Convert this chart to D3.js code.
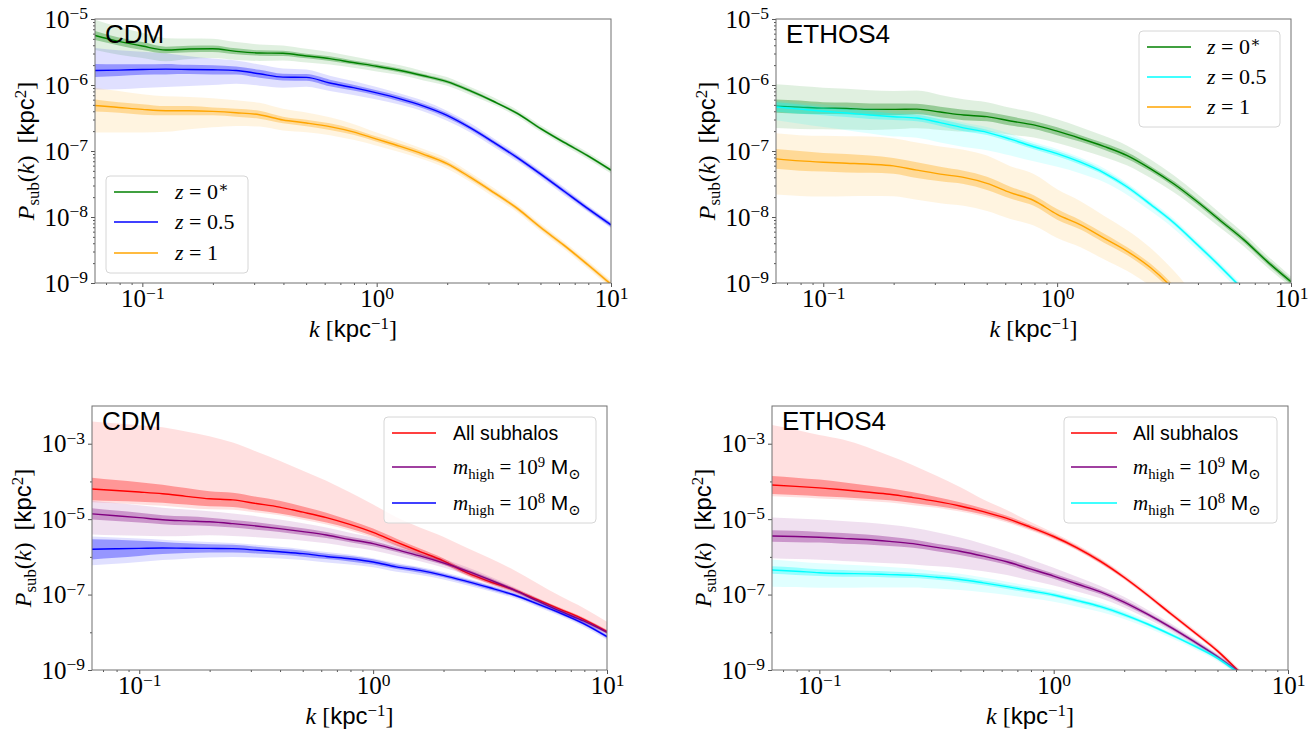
<!doctype html>
<html lang="en">
<head>
<meta charset="UTF-8">
<title>Subhalo power spectrum</title>
<script src="https://cdn.jsdelivr.net/npm/d3@7"></script>
<style>
  body { margin: 0; background: #fff; }
  svg text { white-space: pre; }
</style>
</head>
<body>
<svg id="fig" width="1310" height="729"></svg>
<script>
var SERIF = '"Liberation Serif", "DejaVu Serif", serif';
var SANS = '"Liberation Sans", "DejaVu Sans", sans-serif';

// k grid [kpc^-1], first point = 2pi/100
var kGrid = [0.0628, 0.0794, 0.1, 0.1259, 0.1585, 0.1995, 0.2512, 0.3162, 0.3981, 0.5012, 0.631, 0.7943,
  1.0, 1.259, 1.585, 1.995, 2.512, 3.162, 3.981, 5.012, 6.31, 7.943, 10.0];

// medians are log10 P_sub, band widths are in dex (In = dark band half width, Up/Dn = light band)
// --- CDM, redshift
var cdmZ0   = [-5.25,-5.34,-5.41,-5.47,-5.455,-5.45,-5.49,-5.515,-5.52,-5.56,-5.60,-5.66,-5.715,-5.78,-5.86,-5.95,-6.09,-6.25,-6.43,-6.66,-6.87,-7.07,-7.29];
var cdmZ0In = [0.07,0.06,0.06,0.05,0.05,0.05,0.045,0.04,0.04,0.035,0.035,0.03,0.03,0.03,0.025,0.025,0.025,0.02,0.02,0.02,0.02,0.02,0.02];
var cdmZ0Up = [0.24,0.22,0.2,0.18,0.16,0.15,0.14,0.13,0.12,0.11,0.1,0.09,0.08,0.08,0.07,0.07,0.06,0.06,0.05,0.05,0.05,0.05,0.05];
var cdmZ0Dn = [0.22,0.2,0.18,0.17,0.15,0.14,0.13,0.12,0.11,0.1,0.09,0.08,0.08,0.07,0.07,0.06,0.06,0.05,0.05,0.05,0.05,0.05,0.05];

var cdmZ05   = [-5.78,-5.775,-5.765,-5.76,-5.765,-5.77,-5.78,-5.83,-5.88,-5.885,-5.97,-6.04,-6.12,-6.21,-6.32,-6.46,-6.65,-6.87,-7.10,-7.35,-7.61,-7.87,-8.12];
var cdmZ05In = [0.1,0.09,0.08,0.08,0.07,0.07,0.06,0.06,0.05,0.05,0.05,0.045,0.04,0.04,0.035,0.035,0.03,0.03,0.03,0.03,0.03,0.03,0.03];
var cdmZ05Up = [0.34,0.3,0.27,0.24,0.2,0.17,0.15,0.14,0.13,0.12,0.11,0.1,0.09,0.08,0.08,0.07,0.07,0.06,0.06,0.06,0.06,0.05,0.05];
var cdmZ05Dn = [0.29,0.29,0.28,0.27,0.25,0.23,0.2,0.18,0.16,0.14,0.12,0.11,0.1,0.09,0.08,0.08,0.07,0.07,0.06,0.06,0.06,0.05,0.05];

var cdmZ1   = [-6.31,-6.34,-6.37,-6.39,-6.39,-6.40,-6.42,-6.45,-6.53,-6.575,-6.63,-6.71,-6.82,-6.93,-7.05,-7.19,-7.40,-7.63,-7.87,-8.16,-8.43,-8.72,-9.02];
var cdmZ1In = [0.09,0.08,0.08,0.07,0.07,0.06,0.06,0.06,0.05,0.05,0.05,0.045,0.04,0.04,0.04,0.035,0.035,0.03,0.03,0.03,0.03,0.03,0.03];
var cdmZ1Up = [0.27,0.25,0.23,0.22,0.21,0.2,0.19,0.18,0.17,0.16,0.14,0.12,0.1,0.09,0.08,0.08,0.07,0.07,0.06,0.06,0.06,0.06,0.06];
var cdmZ1Dn = [0.41,0.38,0.35,0.32,0.28,0.24,0.2,0.18,0.16,0.14,0.13,0.12,0.1,0.09,0.08,0.08,0.07,0.07,0.06,0.06,0.06,0.06,0.06];

// --- ETHOS4, redshift
var ethZ0   = [-6.32,-6.335,-6.35,-6.355,-6.37,-6.37,-6.365,-6.41,-6.455,-6.48,-6.545,-6.605,-6.70,-6.81,-6.93,-7.07,-7.27,-7.50,-7.77,-8.06,-8.35,-8.68,-8.98];
var ethZ0In = [0.1,0.1,0.09,0.09,0.09,0.09,0.08,0.08,0.08,0.07,0.07,0.06,0.06,0.05,0.05,0.05,0.04,0.04,0.04,0.04,0.04,0.04,0.04];
var ethZ0Up = [0.33,0.32,0.31,0.3,0.29,0.28,0.28,0.26,0.24,0.22,0.2,0.19,0.18,0.17,0.16,0.15,0.14,0.13,0.12,0.11,0.1,0.09,0.08];
var ethZ0Dn = [0.33,0.33,0.32,0.32,0.31,0.3,0.29,0.27,0.25,0.23,0.21,0.19,0.18,0.17,0.16,0.15,0.14,0.13,0.12,0.11,0.1,0.09,0.08];

var ethZ05   = [-6.333,-6.366,-6.397,-6.425,-6.454,-6.48,-6.50,-6.57,-6.649,-6.717,-6.82,-6.935,-7.04,-7.17,-7.33,-7.545,-7.81,-8.09,-8.42,-8.76,-9.12];
var ethZ05In = [0.07,0.07,0.06,0.06,0.06,0.05,0.05,0.05,0.05,0.04,0.04,0.04,0.04,0.04,0.035,0.035,0.03,0.03,0.03,0.03,0.03];
var ethZ05Up = [0.1,0.1,0.1,0.1,0.1,0.09,0.09,0.09,0.08,0.08,0.08,0.07,0.07,0.07,0.07,0.06,0.06,0.06,0.06,0.06,0.06];
var ethZ05Dn = [0.2,0.22,0.24,0.26,0.28,0.3,0.3,0.3,0.29,0.27,0.25,0.22,0.2,0.17,0.14,0.12,0.1,0.09,0.08,0.08,0.08];

var ethZ1   = [-7.12,-7.15,-7.17,-7.185,-7.20,-7.225,-7.29,-7.35,-7.40,-7.49,-7.63,-7.75,-7.96,-8.12,-8.32,-8.52,-8.77,-9.1,-9.5];
var ethZ1In = [0.15,0.15,0.14,0.14,0.13,0.12,0.12,0.11,0.1,0.1,0.09,0.08,0.08,0.07,0.07,0.06,0.06,0.06,0.06];
var ethZ1Up = [0.39,0.39,0.4,0.41,0.42,0.42,0.42,0.42,0.42,0.42,0.4,0.4,0.38,0.36,0.34,0.32,0.3,0.28,0.26];
var ethZ1Dn = [0.54,0.53,0.52,0.5,0.48,0.46,0.45,0.44,0.43,0.42,0.4,0.38,0.36,0.34,0.32,0.3,0.28,0.26,0.24];

// --- CDM, mass cut
var cdmAll   = [-4.20,-4.24,-4.28,-4.326,-4.395,-4.46,-4.49,-4.585,-4.68,-4.815,-4.96,-5.14,-5.35,-5.61,-5.86,-6.105,-6.42,-6.66,-6.87,-7.13,-7.39,-7.655,-7.98];
var cdmAllIn = [0.3,0.28,0.26,0.24,0.22,0.2,0.19,0.18,0.17,0.15,0.13,0.11,0.1,0.09,0.08,0.07,0.06,0.05,0.05,0.04,0.04,0.04,0.04];
var cdmAllUp = [1.79,1.78,1.77,1.76,1.72,1.66,1.52,1.38,1.23,1.1,0.98,0.85,0.74,0.66,0.64,0.64,0.66,0.62,0.53,0.44,0.35,0.3,0.26];
var cdmAllDn = [0.35,0.34,0.33,0.32,0.3,0.28,0.26,0.24,0.22,0.2,0.18,0.16,0.14,0.12,0.11,0.1,0.09,0.08,0.07,0.07,0.06,0.06,0.06];

var cdmM9   = [-4.86,-4.91,-4.96,-5.015,-5.045,-5.07,-5.12,-5.18,-5.25,-5.33,-5.42,-5.54,-5.65,-5.81,-5.975,-6.16,-6.37,-6.61,-6.87,-7.16,-7.44,-7.70,-8.00];
var cdmM9In = [0.15,0.14,0.13,0.12,0.12,0.11,0.1,0.1,0.09,0.09,0.08,0.07,0.07,0.06,0.06,0.05,0.05,0.05,0.04,0.04,0.04,0.04,0.04];
var cdmM9Up = [0.35,0.34,0.33,0.32,0.3,0.28,0.27,0.26,0.24,0.22,0.2,0.18,0.16,0.14,0.12,0.11,0.1,0.09,0.08,0.08,0.07,0.07,0.07];
var cdmM9Dn = [0.55,0.52,0.48,0.44,0.4,0.36,0.33,0.3,0.27,0.24,0.22,0.2,0.18,0.16,0.14,0.12,0.11,0.1,0.09,0.08,0.08,0.07,0.07];

var cdmM8   = [-5.80,-5.785,-5.775,-5.766,-5.77,-5.776,-5.782,-5.82,-5.865,-5.915,-5.99,-6.05,-6.135,-6.265,-6.36,-6.49,-6.65,-6.82,-7.005,-7.24,-7.49,-7.77,-8.116];
var cdmM8In = [0.27,0.24,0.2,0.16,0.13,0.11,0.1,0.09,0.08,0.08,0.07,0.07,0.07,0.06,0.06,0.05,0.05,0.05,0.04,0.04,0.04,0.04,0.04];
var cdmM8Up = [0.34,0.3,0.26,0.22,0.19,0.17,0.15,0.14,0.13,0.12,0.12,0.11,0.1,0.1,0.09,0.09,0.08,0.08,0.07,0.07,0.07,0.07,0.07];
var cdmM8Dn = [0.42,0.4,0.36,0.32,0.28,0.24,0.22,0.2,0.18,0.17,0.16,0.15,0.14,0.13,0.12,0.11,0.1,0.09,0.08,0.08,0.08,0.08,0.08];

// --- ETHOS4, mass cut
var ethAll   = [-4.095,-4.13,-4.17,-4.22,-4.28,-4.34,-4.43,-4.53,-4.65,-4.80,-4.98,-5.21,-5.46,-5.76,-6.12,-6.54,-7.01,-7.51,-8.00,-8.50,-9.1];
var ethAllIn = [0.24,0.23,0.22,0.2,0.18,0.16,0.14,0.12,0.1,0.08,0.07,0.06,0.05,0.05,0.05,0.04,0.04,0.04,0.04,0.04,0.04];
var ethAllUp = [1.59,1.5,1.4,1.33,1.2,1.02,0.86,0.68,0.5,0.32,0.22,0.14,0.1,0.09,0.08,0.08,0.08,0.08,0.08,0.08,0.08];
var ethAllDn = [0.3,0.29,0.28,0.26,0.24,0.22,0.2,0.17,0.15,0.13,0.11,0.09,0.08,0.07,0.07,0.06,0.06,0.06,0.06,0.06,0.06];

var ethM9   = [-5.447,-5.46,-5.48,-5.51,-5.54,-5.59,-5.65,-5.75,-5.85,-5.98,-6.13,-6.32,-6.51,-6.72,-6.93,-7.20,-7.52,-7.87,-8.25,-8.65,-9.1];
var ethM9In = [0.15,0.15,0.14,0.14,0.13,0.12,0.11,0.1,0.1,0.09,0.08,0.08,0.07,0.07,0.06,0.06,0.05,0.05,0.05,0.05,0.05];
var ethM9Up = [0.49,0.48,0.47,0.46,0.45,0.44,0.42,0.4,0.36,0.32,0.28,0.25,0.22,0.19,0.16,0.14,0.12,0.1,0.09,0.08,0.08];
var ethM9Dn = [0.59,0.6,0.6,0.6,0.6,0.58,0.55,0.5,0.45,0.4,0.35,0.3,0.25,0.2,0.17,0.14,0.12,0.1,0.09,0.08,0.08];

var ethM8   = [-6.35,-6.38,-6.42,-6.44,-6.45,-6.47,-6.49,-6.54,-6.60,-6.69,-6.79,-6.90,-7.01,-7.16,-7.32,-7.53,-7.78,-8.06,-8.36,-8.69,-9.13];
var ethM8In = [0.1,0.1,0.09,0.09,0.08,0.08,0.07,0.07,0.07,0.06,0.06,0.06,0.05,0.05,0.05,0.05,0.04,0.04,0.04,0.04,0.04];
var ethM8Up = [0.28,0.26,0.25,0.24,0.22,0.2,0.18,0.16,0.15,0.14,0.13,0.13,0.13,0.12,0.11,0.1,0.09,0.08,0.08,0.07,0.07];
var ethM8Dn = [0.44,0.42,0.4,0.38,0.36,0.34,0.32,0.3,0.28,0.25,0.22,0.2,0.18,0.16,0.14,0.12,0.1,0.09,0.08,0.08,0.08];

// tick values
var xMajor = [0.1, 1, 10];
var yMajorTop = [1e-9, 1e-8, 1e-7, 1e-6, 1e-5];
var yMajorBot = [1e-9, 1e-7, 1e-5, 1e-3];
var yMinorBot = [1e-8, 1e-6, 1e-4];

// legend labels
var zLabels = [
  [['z', 'i'], [' = 0'], ['\u2217', '^']],
  [['z', 'i'], [' = 0.5']],
  [['z', 'i'], [' = 1']]
];
var mLabels = [
  [['All subhalos', 's']],
  [['m', 'i'], ['high', '_'], [' = 10'], ['9', '^'], [' M', 's'], ['\u2299', '_']],
  [['m', 'i'], ['high', '_'], [' = 10'], ['8', '^'], [' M', 's'], ['\u2299', '_']]
];

function minorTicks(lo, hi) {
  var out = [];
  for (var e = Math.floor(Math.log10(lo)); e < Math.log10(hi); e++) {
    for (var s = 2; s <= 9; s++) {
      var v = s * Math.pow(10, e);
      if (v >= lo && v <= hi) out.push(v);
    }
  }
  return out;
}

function rich(t, parts, size) {
  var off = 0;
  parts.forEach(function(p) {
    var st = p[1] || '';
    var sup = st.indexOf('^') >= 0, sub = st.indexOf('_') >= 0;
    var shift = sup ? -0.34 * size : sub ? 0.22 * size : 0;
    t.append('tspan')
      .attr('dy', shift - off)
      .attr('font-size', (sup || sub) ? size * 0.7 : size)
      .attr('font-family', st.indexOf('s') >= 0 ? SANS : SERIF)
      .attr('font-style', st.indexOf('i') >= 0 ? 'italic' : 'normal')
      .text(p[0]);
    off = shift;
  });
}

function sup10(v) {
  var e = Math.round(Math.log10(v));
  return [['10'], [(e < 0 ? '\u2212' + (-e) : '' + e), '^']];
}

var panels = [
  { title: 'CDM', x0: 95, x1: 611, y0: 19, y1: 283, yDom: [1e-9, 1e-5], yMajor: yMajorTop, yMinor: minorTicks(1e-9, 1e-5), ylabX: 34,
    legend: { x0: 106, y0: 176, x1: 248, y1: 273, lx0: 114, lx1: 158, tx: 175, rows: [192, 222, 253], size: 22 }, labels: zLabels,
    series: [
      { c: '#008000', m: cdmZ0, i: cdmZ0In, u: cdmZ0Up, d: cdmZ0Dn },
      { c: '#0000ff', m: cdmZ05, i: cdmZ05In, u: cdmZ05Up, d: cdmZ05Dn },
      { c: '#ffa500', m: cdmZ1, i: cdmZ1In, u: cdmZ1Up, d: cdmZ1Dn }
    ] },
  { title: 'ETHOS4', x0: 776, x1: 1291, y0: 19, y1: 283, yDom: [1e-9, 1e-5], yMajor: yMajorTop, yMinor: minorTicks(1e-9, 1e-5), ylabX: 715,
    legend: { x0: 1139, y0: 31, x1: 1280, y1: 127, lx0: 1147, lx1: 1191, tx: 1207, rows: [47, 77, 107], size: 22 }, labels: zLabels,
    series: [
      { c: '#008000', m: ethZ0, i: ethZ0In, u: ethZ0Up, d: ethZ0Dn },
      { c: '#00ffff', m: ethZ05, i: ethZ05In, u: ethZ05Up, d: ethZ05Dn },
      { c: '#ffa500', m: ethZ1, i: ethZ1In, u: ethZ1Up, d: ethZ1Dn }
    ] },
  { title: 'CDM', x0: 92, x1: 607, y0: 406, y1: 670, yDom: [1e-9, 1e-2], yMajor: yMajorBot, yMinor: yMinorBot, ylabX: 31,
    legend: { x0: 384, y0: 417, x1: 596, y1: 523, lx0: 392, lx1: 436, tx: 453, rows: [433, 467, 503], size: 21 }, labels: mLabels,
    series: [
      { c: '#ff0000', m: cdmAll, i: cdmAllIn, u: cdmAllUp, d: cdmAllDn },
      { c: '#800080', m: cdmM9, i: cdmM9In, u: cdmM9Up, d: cdmM9Dn },
      { c: '#0000ff', m: cdmM8, i: cdmM8In, u: cdmM8Up, d: cdmM8Dn }
    ] },
  { title: 'ETHOS4', x0: 772, x1: 1288, y0: 406, y1: 670, yDom: [1e-9, 1e-2], yMajor: yMajorBot, yMinor: yMinorBot, ylabX: 711,
    legend: { x0: 1064, y0: 417, x1: 1277, y1: 523, lx0: 1071, lx1: 1117, tx: 1133, rows: [433, 467, 503], size: 21 }, labels: mLabels,
    series: [
      { c: '#ff0000', m: ethAll, i: ethAllIn, u: ethAllUp, d: ethAllDn },
      { c: '#800080', m: ethM9, i: ethM9In, u: ethM9Up, d: ethM9Dn },
      { c: '#00ffff', m: ethM8, i: ethM8In, u: ethM8Up, d: ethM8Dn }
    ] }
];

var svg = d3.select('#fig');
svg.append('rect').attr('width', 1310).attr('height', 729).attr('fill', '#fff');
var defs = svg.append('defs');

panels.forEach(function(p, pi) {
  var x = d3.scaleLog().domain([kGrid[0], 10]).range([p.x0, p.x1]);
  var y = d3.scaleLog().domain(p.yDom).range([p.y1, p.y0]);
  var g = svg.append('g');

  defs.append('clipPath').attr('id', 'clip' + pi)
    .append('rect').attr('x', p.x0).attr('y', p.y0).attr('width', p.x1 - p.x0).attr('height', p.y1 - p.y0);
  var plot = g.append('g').attr('clip-path', 'url(#clip' + pi + ')');

  p.series.forEach(function(s) {
    var pts = s.m.map(function(v, j) { return { k: kGrid[j], m: v, i: s.i[j], u: s.u[j], d: s.d[j] }; });
    var outer = d3.area().curve(d3.curveMonotoneX).x(function(d) { return x(d.k); })
      .y0(function(d) { return y(Math.pow(10, d.m - d.d)); })
      .y1(function(d) { return y(Math.pow(10, d.m + d.u)); });
    var inner = d3.area().curve(d3.curveMonotoneX).x(function(d) { return x(d.k); })
      .y0(function(d) { return y(Math.pow(10, d.m - d.i)); })
      .y1(function(d) { return y(Math.pow(10, d.m + d.i)); });
    var line = d3.line().curve(d3.curveMonotoneX)
      .x(function(d) { return x(d.k); }).y(function(d) { return y(Math.pow(10, d.m)); });
    plot.append('path').datum(pts).attr('d', outer).attr('fill', s.c).attr('fill-opacity', 0.12);
    plot.append('path').datum(pts).attr('d', inner).attr('fill', s.c).attr('fill-opacity', 0.33);
    plot.append('path').datum(pts).attr('d', line).attr('fill', 'none').attr('stroke', s.c).attr('stroke-width', 1.4);
  });

  // axes
  var axG = g.append('g').attr('color', '#555');
  var xa = axG.append('g').attr('transform', 'translate(0,' + p.y1 + ')')
    .call(d3.axisBottom(x).tickValues(xMajor).tickSize(4).tickFormat(''));
  axG.append('g').attr('transform', 'translate(0,' + p.y1 + ')')
    .call(d3.axisBottom(x).tickValues(minorTicks(kGrid[0], 10)).tickSize(2).tickFormat(''));
  var ya = axG.append('g').attr('transform', 'translate(' + p.x0 + ',0)')
    .call(d3.axisLeft(y).tickValues(p.yMajor).tickSize(4).tickFormat(''));
  axG.append('g').attr('transform', 'translate(' + p.x0 + ',0)')
    .call(d3.axisLeft(y).tickValues(p.yMinor).tickSize(2).tickFormat(''));
  axG.selectAll('.domain').remove();

  xa.selectAll('.tick text').each(function(d) {
    var t = d3.select(this).attr('y', 24).attr('dy', null).attr('fill', '#000').attr('text-anchor', 'middle');
    rich(t, sup10(d), 25);
  });
  ya.selectAll('.tick text').each(function(d) {
    var t = d3.select(this).attr('x', -7).attr('dy', null).attr('y', 8).attr('fill', '#000').attr('text-anchor', 'end');
    rich(t, sup10(d), 25);
  });

  // frame
  g.append('rect').attr('x', p.x0).attr('y', p.y0).attr('width', p.x1 - p.x0).attr('height', p.y1 - p.y0)
    .attr('fill', 'none').attr('stroke', '#707070').attr('stroke-width', 1);

  // title
  g.append('text').attr('x', p.x0 + 10).attr('y', p.y0 + 24)
    .attr('font-family', SANS).attr('font-size', 26).attr('fill', '#000').text(p.title);

  // axis labels
  var xl = g.append('text').attr('x', (p.x0 + p.x1) / 2).attr('y', p.y1 + 54).attr('text-anchor', 'middle').attr('fill', '#000');
  rich(xl, [['k', 'i'], [' ['], ['kpc', 's'], ['\u22121', '^'], [']']], 24);
  var yl = g.append('text').attr('transform', 'translate(' + p.ylabX + ',' + ((p.y0 + p.y1) / 2) + ') rotate(-90)')
    .attr('text-anchor', 'middle').attr('fill', '#000');
  rich(yl, [['P', 'i'], ['sub', '_'], ['('], ['k', 'i'], [')'], ['  ['], ['kpc', 's'], ['2', '^'], [']']], 24);

  // legend
  var L = p.legend;
  var lg = g.append('g');
  lg.append('rect').attr('x', L.x0).attr('y', L.y0).attr('width', L.x1 - L.x0).attr('height', L.y1 - L.y0)
    .attr('rx', 4).attr('fill', '#fff').attr('fill-opacity', 0.8).attr('stroke', '#d6d6d6');
  p.series.forEach(function(s, j) {
    lg.append('line').attr('x1', L.lx0).attr('x2', L.lx1).attr('y1', L.rows[j]).attr('y2', L.rows[j])
      .attr('stroke', s.c).attr('stroke-width', 1.5);
    var t = lg.append('text').attr('x', L.tx).attr('y', L.rows[j] + 7).attr('fill', '#000');
    rich(t, p.labels[j], j === 0 && p.labels === mLabels ? 19.5 : L.size);
  });
});
</script>
</body>
</html>
